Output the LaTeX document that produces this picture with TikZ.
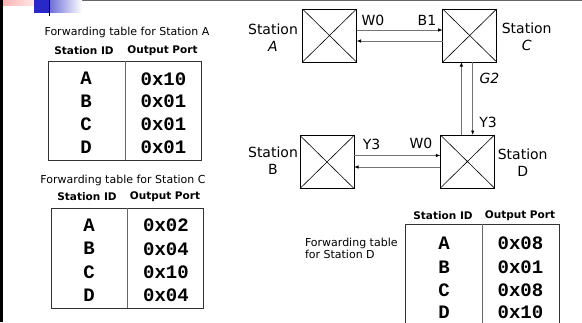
\documentclass[tikz,border=0pt]{standalone}
\usepackage{fontspec}
\setmainfont{DejaVu Sans}
\newfontfamily\monob{Liberation Mono}
\usetikzlibrary{arrows.meta}
\definecolor{decoblue}{RGB}{40,40,200}
\begin{document}
\begin{tikzpicture}[x=1pt,y=-1pt,
  every node/.style={inner sep=0pt, outer sep=0pt},
  station/.style={draw=black, line width=0.8pt, minimum width=54pt, minimum height=53pt},
  cross/.style={draw=black, line width=0.6pt},
  slabel/.style={font=\fontsize{14}{17}\selectfont, align=center},
  plabel/.style={font=\fontsize{14}{16}\selectfont},
  caption/.style={font=\fontsize{11}{12}\selectfont, align=left},
  hdr/.style={font=\bfseries\fontsize{10.5}{12}\selectfont},
  cell/.style={font=\monob\bfseries\fontsize{19}{20}\selectfont},
  tbox/.style={draw=black!80, line width=0.9pt},
  tdiv/.style={draw=black!60, line width=0.9pt},
  conn/.style={draw=black!55, line width=0.8pt},
  tip/.style={-{Latex[length=4.5pt,width=3.5pt,color=black]}},
]
\useasboundingbox (0,0) rectangle (582,322);
% frame decoration
\fill[black] (0,0) rectangle (3,322);
\draw[black!60, line width=1.2pt] (28,0.6) -- (582,0.6);
\shade[left color=red!30, right color=white] (3,0) rectangle (48,5);
\shade[left color=decoblue, right color=white] (34,0) rectangle (82,12.5);
\fill[decoblue] (34,0) rectangle (50,12.5);
\draw[black, line width=1.5pt] (49.5,0) -- (49.5,16);

% ---------- Table A ----------
\node[caption] (capA) at (127,32.5) {Forwarding table for Station A};
\node[hdr] (hA1) at (84,51) {Station ID};
\node[hdr] (hA2) at (162.5,51) {Output Port};
\node[tbox, minimum width=153pt, minimum height=99pt] (tA) at (124.5,110.5) {};
\draw[tdiv] (125,61) -- (125,160);
\node[cell] (aA1) at (86,78) {A};
\node[cell] (aA2) at (163.5,79) {0x10};
\node[cell] (aB1) at (86,101) {B};
\node[cell] (aB2) at (163.5,101.5) {0x01};
\node[cell] (aC1) at (86,124) {C};
\node[cell] (aC2) at (163.5,124.5) {0x01};
\node[cell] (aD1) at (86,147) {D};
\node[cell] (aD2) at (163.5,147.5) {0x01};

% ---------- Table C ----------
\node[caption] (capC) at (123,180.5) {Forwarding table for Station C};
\node[hdr] (hC1) at (87,197) {Station ID};
\node[hdr] (hC2) at (165,197) {Output Port};
\node[tbox, minimum width=152pt, minimum height=100pt] (tC) at (127,258) {};
\draw[tdiv] (127,208) -- (127,308);
\node[cell] (cA1) at (89,225) {A};
\node[cell] (cA2) at (166,225.5) {0x02};
\node[cell] (cB1) at (89,248.5) {B};
\node[cell] (cB2) at (166,249) {0x04};
\node[cell] (cC1) at (89,272) {C};
\node[cell] (cC2) at (166,272) {0x10};
\node[cell] (cD1) at (89,295) {D};
\node[cell] (cD2) at (166,295.5) {0x04};

% ---------- Table D ----------
\node[caption, anchor=west] (capD) at (305,248) {Forwarding table\\for Station D};
\node[hdr] (hD1) at (443,216) {Station ID};
\node[hdr] (hD2) at (520,216) {Output Port};
\draw[tbox] (405.7,330) -- (405.7,224) -- (559,224) -- (559,330);
\draw[tdiv] (482,224) -- (482,330);
\node[cell] (dA1) at (444,243.5) {A};
\node[cell] (dA2) at (520.5,243.5) {0x08};
\node[cell] (dB1) at (444,267) {B};
\node[cell] (dB2) at (520.5,267.5) {0x01};
\node[cell] (dC1) at (444,290) {C};
\node[cell] (dC2) at (520.5,290) {0x08};
\node[cell] (dD1) at (444,312.5) {D};
\node[cell] (dD2) at (520.5,312.5) {0x10};

% ---------- Stations ----------
\node[station] (A) at (329.5,35.5) {};
\node[station] (C) at (469.7,35.5) {};
\node[station] (B) at (327,162) {};
\node[station] (D) at (467.4,161.5) {};
\foreach \s in {A,B,C,D}{
  \draw[cross] (\s.north west) -- (\s.south east) (\s.north east) -- (\s.south west);
}
\node[slabel] (lA) at (273,38) {Station\\\textit{A}};
\node[slabel] (lC) at (526.7,37) {Station\\\textit{C}};
\node[slabel] (lB) at (273,161) {Station\\B};
\node[slabel] (lD) at (522.7,162.5) {Station\\D};

% ---------- Connectors ----------
\draw[conn,tip] ([yshift=5.5pt]A.east) -- ([yshift=5.5pt]C.west);
\draw[conn,tip] ([yshift=-5.5pt]C.west) -- ([yshift=-5.5pt]A.east);
\draw[conn,tip] ([xshift=-6pt]D.north) -- ([xshift=-6pt]D.north |- C.south);
\draw[conn,tip] ([xshift=5.3pt]D.north |- C.south) -- ([xshift=5.3pt]D.north);
\draw[conn,tip] ([yshift=6.5pt]B.east) -- ([yshift=6.5pt]B.east -| D.west);
\draw[conn,tip] ([yshift=-5pt]B.east -| D.west) -- ([yshift=-5pt]B.east);

\node[plabel] (pW0a) at (373,20) {W0};
\node[plabel] (pB1) at (427,20) {B1};
\node[plabel] (pG2) at (489.5,78) {\textit{G2}};
\node[plabel] (pY3a) at (488,122) {Y3};
\node[plabel] (pY3b) at (371.5,144) {Y3};
\node[plabel] (pW0b) at (421,143) {W0};
\end{tikzpicture}
\end{document}
